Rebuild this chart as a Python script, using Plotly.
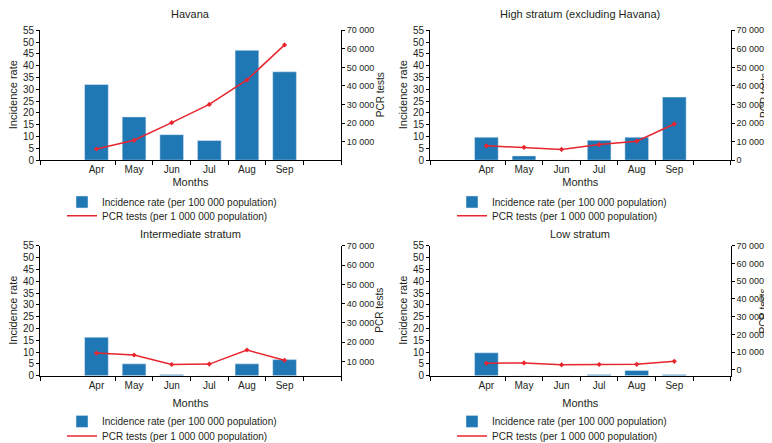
import plotly.graph_objects as go

# --- data ---
months = ["Apr", "May", "Jun", "Jul", "Aug", "Sep"]
month_pos = [1, 2, 3, 4, 5, 6]

panel_titles = ["Havana", "High stratum (excluding Havana)",
                "Intermediate stratum", "Low stratum"]

# incidence rate per 100 000 population
inc_havana = [32.0, 18.3, 10.8, 8.3, 46.5, 37.4]
inc_high = [9.7, 1.8, 0.0, 8.4, 9.7, 26.7]
inc_inter = [16.3, 5.0, 0.5, 0.0, 5.0, 6.8]
inc_low = [9.7, 0.0, 0.0, 0.5, 2.2, 0.5]

# PCR tests per 1 000 000 population
pcr_havana = [6000, 10700, 20200, 30000, 43200, 62100]
pcr_high = [7700, 6900, 5800, 8400, 10200, 19500]
pcr_inter = [14400, 13400, 8500, 8700, 16000, 10700]
pcr_low = [3700, 3900, 2800, 3000, 3100, 4800]

left_ticks = list(range(0, 60, 5))
right_ticks_full = [0, 10000, 20000, 30000, 40000, 50000, 60000, 70000]
right_text_full = ["0", "10 000", "20 000", "30 000", "40 000", "50 000", "60 000", "70 000"]

incidence = [inc_havana, inc_high, inc_inter, inc_low]
pcr = [pcr_havana, pcr_high, pcr_inter, pcr_low]
right_ranges = [[0, 70000], [0, 70000], [2700, 70000], [-3300, 70000]]
show_zero = [False, True, False, True]

BLUE = "#1f77b4"
RED = "#e8252e"
FONT = "Liberation Sans, Arial, sans-serif"
INK = "#231f20"

W, H = 772, 443
# plot areas in pixels: (left, right, top, bottom)
boxes = [(32, 333, 22.7, 155.3), (422, 722.7, 22.7, 155.3),
         (32, 333, 242.7, 375.3), (422, 722.7, 242.7, 375.3)]
title_y = [6, 6, 231, 231]
legend_rows = [(198, 212), (198, 212), (422, 437), (422, 437)]
pcr_title_gap = [39, 33, 39, 33]

fig = go.Figure()
layout = {}
annotations = []

def ann(text, x, y, angle=0, size=11):
    return dict(text=text, xref="paper", yref="paper", x=x / W, y=1 - y / H,
                xanchor="center", yanchor="middle", showarrow=False,
                textangle=angle, font=dict(size=size, color=INK))

for i in range(4):
    xl, xr, yt, yb = boxes[i]
    xa = "x" if i == 0 else "x%d" % (i + 1)
    ya1 = "y%d" % (2 * i + 1) if i > 0 else "y"
    ya2 = "y%d" % (2 * i + 2)
    leg_bar = "legend" if i == 0 else "legend%d" % (2 * i + 1)
    leg_line = "legend%d" % (2 * i + 2)

    fig.add_trace(go.Bar(x=month_pos, y=incidence[i], xaxis=xa, yaxis=ya1,
                         marker_color=BLUE, width=0.63, legend=leg_bar,
                         name="Incidence rate (per 100 000 population)"))
    fig.add_trace(go.Scatter(x=month_pos, y=pcr[i], xaxis=xa, yaxis=ya2,
                             mode="lines", legend=leg_line,
                             line=dict(color=RED, width=1.5),
                             name="PCR tests (per 1 000 000 population)"))
    fig.add_trace(go.Scatter(x=month_pos, y=pcr[i], xaxis=xa, yaxis=ya2,
                             mode="markers", showlegend=False,
                             marker=dict(color=RED, size=4, symbol="diamond")))

    xkey = "xaxis" if i == 0 else "xaxis%d" % (i + 1)
    ykey1 = "yaxis" if i == 0 else "yaxis%d" % (2 * i + 1)
    ykey2 = "yaxis%d" % (2 * i + 2)
    dom_x = [xl / W, xr / W]
    dom_y = [1 - yb / H, 1 - yt / H]
    standoff = 4 if i < 2 else 9

    layout[xkey] = dict(domain=dom_x, anchor=ya1, range=[-0.5, 7.5],
                        tickmode="array", tickvals=month_pos, ticktext=months,
                        ticks="", showline=True, linecolor="black", linewidth=1,
                        showgrid=False, zeroline=False,
                        minor=dict(tickmode="array",
                                   tickvals=[-0.5, 1.5, 2.5, 3.5, 4.5, 5.5, 6.5, 7.5],
                                   ticks="outside", ticklen=4, tickcolor="black"),
                        title=dict(text="Months", standoff=standoff,
                                   font=dict(size=11, color=INK)),
                        tickfont=dict(size=10, color=INK), automargin=False)
    layout[ykey1] = dict(domain=dom_y, anchor=xa, range=[0, 55],
                         tickmode="array", tickvals=left_ticks,
                         ticks="outside", ticklen=3, tickcolor="black",
                         showline=True, linecolor="black", linewidth=1,
                         showgrid=False, zeroline=False,
                         tickfont=dict(size=10, color=INK), automargin=False)
    if show_zero[i]:
        rv, rt = right_ticks_full, right_text_full
    else:
        rv, rt = right_ticks_full[1:], right_text_full[1:]
    layout[ykey2] = dict(overlaying=ya1, anchor=xa, side="right",
                         range=right_ranges[i], tickmode="array",
                         tickvals=rv, ticktext=rt,
                         ticks="outside", ticklen=3, tickcolor="black",
                         showline=True, linecolor="black", linewidth=1,
                         showgrid=False, zeroline=False,
                         tickfont=dict(size=9, color=INK), automargin=False)

    annotations.append(ann(panel_titles[i], (xl + xr) / 2, title_y[i]))
    annotations.append(ann("Incidence rate", xl - 27, (yt + yb) / 2, -90))
    annotations.append(ann("PCR tests", xr + pcr_title_gap[i], (yt + yb) / 2, -90, size=10))

    for leg, row_y in zip([leg_bar, leg_line], legend_rows[i]):
        layout[leg] = dict(x=(xl + 22) / W, y=1 - row_y / H, xanchor="left",
                           yanchor="middle", bgcolor="rgba(0,0,0,0)",
                           font=dict(size=10, color=INK), itemwidth=30)

fig.update_layout(width=W, height=H, margin=dict(l=0, r=0, t=0, b=0),
                  plot_bgcolor="white", paper_bgcolor="white",
                  font=dict(family=FONT, color=INK), showlegend=True,
                  annotations=annotations, barmode="overlay", **layout)

fig.write_html("out.html")
